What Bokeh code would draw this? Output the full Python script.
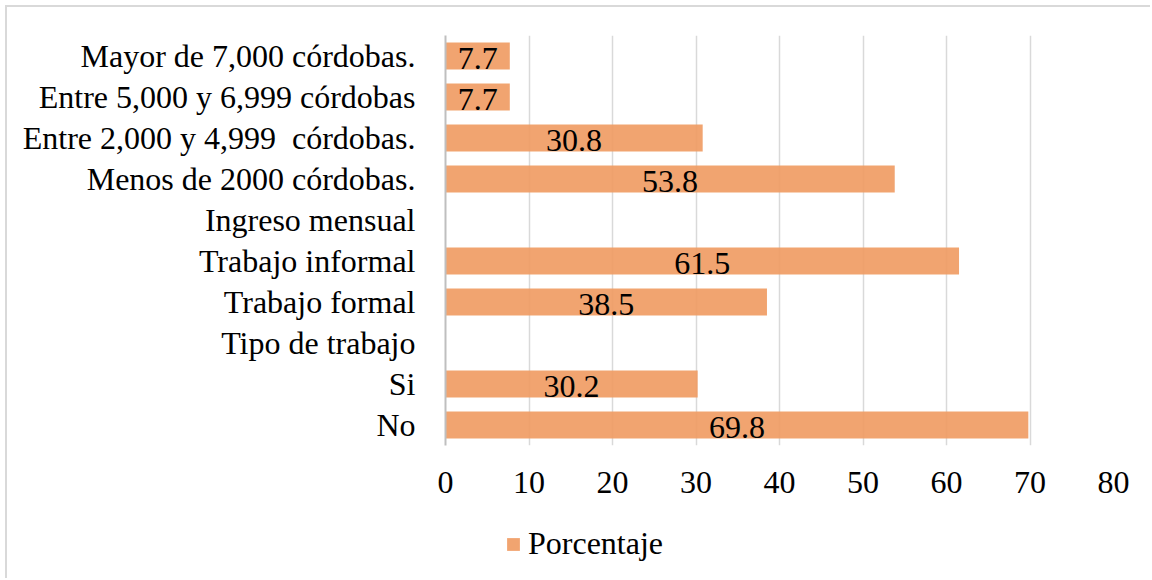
from bokeh.plotting import figure
from bokeh.layouts import column
from bokeh.models import ColumnDataSource, Legend, LegendItem, FactorRange
from bokeh.core.properties import value
from bokeh.embed import file_html
from bokeh.resources import INLINE

categories = [
    "No",
    "Si",
    "Tipo de trabajo",
    "Trabajo formal",
    "Trabajo informal",
    "Ingreso mensual",
    "Menos de 2000 córdobas.",
    "Entre 2,000 y 4,999\u00a0 córdobas.",
    "Entre 5,000 y 6,999 córdobas",
    "Mayor de 7,000 córdobas.",
]
porcentaje = [69.8, 30.2, None, 38.5, 61.5, None, 53.8, 30.8, 7.7, 7.7]
x_ticks = [0, 10, 20, 30, 40, 50, 60, 70, 80]
series_name = "Porcentaje"

FONT = "Liberation Serif"
BAR = "#ef9a60"

cats = [c for c, v in zip(categories, porcentaje) if v is not None]
vals = [v for v in porcentaje if v is not None]
src = ColumnDataSource(dict(cat=cats, val=vals, mid=[v / 2 for v in vals],
                            lab=[f"{v:.1f}" for v in vals]))

p = figure(width=1143, height=495, y_range=FactorRange(*categories, range_padding=0),
           x_range=(0, 80), output_backend="svg", toolbar_location=None,
           min_border_left=438, min_border_right=37, min_border_top=28,
           min_border_bottom=57)
p.outline_line_color = None

r = p.hbar(y="cat", right="val", left=0, height=0.66, source=src,
           fill_color=BAR, fill_alpha=0.9, line_color=None)
p.text(x="mid", y="cat", text="lab", source=src, text_align="center",
       text_baseline="middle", text_font=value(FONT), text_font_size="32px",
       text_color="black", y_offset=2)

p.xgrid.grid_line_color = "#d9d9d9"
p.xgrid.grid_line_width = 1.5
p.xgrid.level = "underlay"
p.ygrid.grid_line_color = None

p.xaxis.ticker = x_ticks
p.xaxis.axis_line_color = None
p.xaxis.major_tick_line_color = None
p.xaxis.minor_tick_line_color = None
p.xaxis.major_label_text_font = FONT
p.xaxis.major_label_text_font_size = "32px"
p.xaxis.major_label_text_color = "black"
p.xaxis.major_label_standoff = 20

p.yaxis.axis_line_color = "#bfbfbf"
p.yaxis.axis_line_width = 2
p.yaxis.major_tick_line_color = None
p.yaxis.minor_tick_line_color = None
p.yaxis.major_label_text_font = FONT
p.yaxis.major_label_text_font_size = "32px"
p.yaxis.major_label_text_color = "black"
p.yaxis.major_label_standoff = 24

# legend strip (the swatch renderer's bar lies outside the visible range)
lg = figure(width=1143, height=76, x_range=(0, 1), y_range=(0, 1),
            output_backend="svg", toolbar_location=None,
            min_border_left=0, min_border_right=0, min_border_top=0,
            min_border_bottom=0)
lg.axis.visible = False
lg.grid.visible = False
lg.outline_line_color = None
swatch = lg.hbar(y=[-5], right=[-4], left=-5, height=0.5,
                 fill_color=BAR, fill_alpha=0.9, line_color=None)
legend = Legend(items=[LegendItem(label=series_name, renderers=[swatch])],
                location=(60, 16), orientation="horizontal",
                label_text_font=FONT, label_text_font_size="32px",
                label_text_color="black",
                glyph_width=16, glyph_height=16, label_standoff=7,
                border_line_color=None, background_fill_alpha=0,
                padding=0, margin=0)
lg.add_layout(legend, "center")

layout = column(p, lg, spacing=0)
layout.styles = {"border-left": "2px solid #d9d9d9", "border-top": "2px solid #d9d9d9",
                 "margin-left": "5px", "margin-top": "5px"}

open("out.html", "w").write(file_html(layout, INLINE))
